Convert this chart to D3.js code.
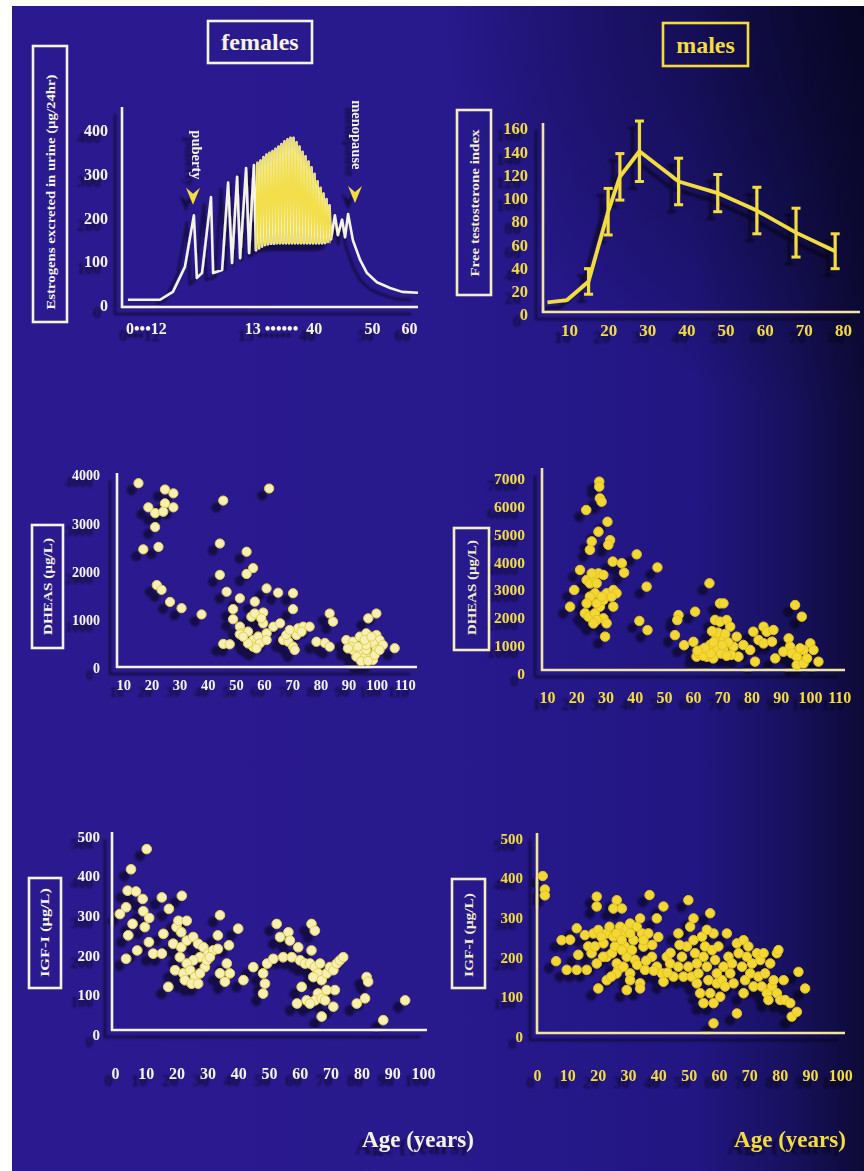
<!DOCTYPE html>
<html><head><meta charset="utf-8">
<script src="https://cdn.jsdelivr.net/npm/d3@7"></script>
<style>html,body{margin:0;padding:0;background:#fff}svg{display:block}</style>
</head><body>
<svg id="c" width="864" height="1171"></svg>
<script>
// ---------------- DATA ----------------
// Female estrogen schematic curve: [position along schematic lifespan axis (0-100), estrogen ug/24hr]
const estrogenPre = [[3.3,12],[14,12],[18.3,30],[22.3,87],[25.3,205],[26.3,62],[28,73],[31,247],[31.7,73],[34.7,80],[36.7,280],[38,96],[39.7,293],[40.7,107],[42.7,313],[43.7,119],[45.3,320],[46,125]];
const cyclePeakPos = [46.5,47.5,48.5,49.5,50.5,51.5,52.5,53.5,54.5,55.5,56.5,57.5,58.5,59.5,60.5,61.5,62.5,63.5,64.5,65.5,66.5,67.5,68.5,69.5,70.5];
const cyclePeakVal = [325,330,338,344,348,352,357,362,368,374,379,382,382,372,362,350,340,328,315,300,283,268,255,242,228];
const cycleTroughPos = [47,48,49,50,51,52,53,54,55,56,57,58,59,60,61,62,63,64,65,66,67,68,69,70,71];
const cycleTroughVal = [130,134,137,139,140,140,141,141,141,141,141,141,141,141,141,141,141,141,141,141,141,141,142,145,150];
const estrogenPost = [[72.3,205],[73.3,160],[74.7,195],[75.7,155],[76.7,208],[78.3,148],[80.7,103],[83,73],[86.3,52],[90.7,39],[94.7,30],[100,28]];
const estrogenYTicks = [0,100,200,300,400];
const estrogenXTickPos = [9.3,55,84.7,97];
const estrogenXTickLabels = ["0\u2022\u2022\u202212","13 \u2022\u2022\u2022\u2022\u2022\u2022  40","50","60"];
const estrogenNotes = [{text:"puberty", arrow:[25,229], label:[26.3,343]},{text:"menopause", arrow:[79,233], label:[79.7,389]}];

// Male free testosterone index
const testoAge = [4.5,9.5,15,20,23,28,38,48,58,68,78];
const testoVal = [10,12,28,88,118,140,114,104,89,70,54];
const testoErr = [0,0,11,20,20,26,20,16,20,21,15];
const testoXTicks = [10,20,30,40,50,60,70,80];
const testoYTicks = [0,20,40,60,80,100,120,140,160];

// Female DHEAS [age, ug/L]
const femaleDheas = [[15.4,3830],[24.8,3700],[27.8,3620],[18.9,3330],[21.3,3210],[24.8,3410],[24.2,3240],[27.8,3330],[21.3,2920],[17.1,2460],[22.5,2510],[45.5,3470],[61.8,3720],
[21.9,1720],[23.6,1620],[26.6,1370],[30.7,1240],[37.8,1110],
[44.3,2580],[44.3,1930],[46.7,1580],[53.8,2410],[56.1,2070],[53.8,1950],[51.4,1445],[60.9,1650],[65,1560],[70.3,1550],[70.3,1220],[56.7,1375],[49,1220],[49,1010],[59.7,1150],
[51.4,857],[52,719],[54.3,753],[56.1,580],[57.9,650],[59.7,926],[60.9,719],[63.3,857],[65.7,926],[56.1,442],[58.5,511],[60.9,580],[54.3,511],[57.3,408],[51.4,700],[52.6,650],[55.5,1064],[56.7,1130],[59,1030],[45.5,500],[47.8,490],
[66.8,580],[68.6,546],[70.3,442],[71.5,684],[72.1,823],[73.9,857],[76.2,857],[67.9,684],[70.9,373],[69.1,788],[73.3,753],
[78.6,545],[81.6,520],[83.3,442],[83.3,1130],[84.5,960],
[89.2,580],[91.6,546],[94,650],[96.3,719],[99.9,684],[101,580],[102.2,477],[91.6,373],[94,304],[96.3,373],[98.7,511],[97.5,200],[95.1,200],[99.9,373],[92.8,235],[98.7,166],[96.3,477],[91,442],[93.3,442],[95.7,580],[98.1,650],[94.5,140],[96.9,150],[89.8,408],[99.3,270],[101,373],[97,1030],[99.9,1130],[106.4,410]];
const femaleDheasXTicks = [10,20,30,40,50,60,70,80,90,100,110];
const femaleDheasYTicks = [0,1000,2000,3000,4000];

// Male DHEAS [age, ug/L]
const maleDheas = [[27.9,6870],[27.9,6690],[28.1,6270],[28.7,6150],[23.4,5850],[30.7,5430],[27.6,5070],[25.3,4720],[24.7,4420],[31.6,4770],[31,4600],[21.3,3700],[32.5,4000],[35.6,3940],[36.4,3600],[40.7,4260],[47.8,3790],[44.1,3100],[19.3,2980],[17.9,2380],
[23.6,3339],[24.7,3219],[25.9,3459],[27,3219],[26.4,2861],[24.7,2740],[23.6,2501],[23,2142],[24.2,2022],[26.4,2142],[28.1,2381],[29.3,2621],[30.4,2861],[32.7,2980],[33.8,2861],[32.1,2740],[29.3,1962],[27,1903],[25.9,1783],[30.4,1783],[29.9,1304],[32.7,2381],[27.6,3578],[29.3,3518],[25.3,3578],[27,2501],[28.7,2740],
[41.6,1870],[44.4,1540],[53.8,1360],[55,2080],[54.6,1900],[56.9,1000],[60.7,2200],[60.1,1120],[61.2,590],[63,830],[65.6,3220],[69.2,2500],[70.4,2500],[67.5,1903],[69.2,1843],[71.5,1903],[72.7,1663],[68.1,1304],[70.4,1185],[65.8,1005],[68.1,826],[64.7,586],[66.9,526],[70.4,826],[73.8,945],[74.9,1304],[75.5,586],[77.2,1005],[79.5,826],[80.6,1484],[84.1,1663],[85.2,1484],[87.5,1544],[82.4,1185],[84.1,1065],[87,1125],[81.2,407],[88.1,526],[92.7,1244],[93.2,945],[94.9,2441],[97.2,2022],[90.9,766],[93.8,706],[95.5,586],[97.8,826],[100.1,1065],[101.2,826],[95.5,287],[97.8,347],[102.9,407],[99,526],[96.6,886],
[62,700],[63.5,620],[66,700],[67,1100],[68.5,1450],[71,1400],[72,1100],[69.5,700],[73,650],[66.5,1500],[64,900],[70,1000],[71.5,620],[61.5,800]];
const maleDheasXTicks = [10,20,30,40,50,60,70,80,90,100,110];
const maleDheasYTicks = [0,1000,2000,3000,4000,5000,6000,7000];

// Female IGF-I [age, ug/L]
const femaleIgf = [[10.3,467],[5.2,416],[4.1,362],[6.8,360],[9,341],[3.6,320],[1.6,303],[9.2,310],[11.1,293],[5.7,278],[9.7,270],[4.3,249],[11,232],[7.2,211],[3.6,190],[12.4,203],[15.2,345],[17.5,316],[21.7,349],[15.7,253],[15.2,203],[17.3,119],
[20,270],[20.6,286],[23.3,286],[18.9,228],[21.5,219],[23.3,236],[25.4,245],[27,228],[28.7,219],[30.3,203],[31.9,211],[27.6,194],[25.4,186],[23.3,178],[21.1,194],[19.5,161],[22.2,153],[24.4,161],[26,144],[22.7,136],[24.9,127],[27,127],[29.2,169],[27.6,153],[29.8,186],[30.8,194],[21.5,257],
[34.1,300],[33.4,249],[33.4,215],[37,224],[34.1,153],[37.3,153],[36.3,178],[35.7,132],[40,266],[41.7,136],[44.9,169],[49.4,178],[48.1,153],[48.7,127],[48.1,102],
[52.5,278],[53.6,245],[56.3,257],[56.8,236],[59.5,219],[51.4,190],[54.6,194],[57.4,194],[60.1,186],[61.7,178],[63.8,278],[64.9,261],[63.8,211],[63.3,178],[64.9,169],[66.6,178],[65.9,153],[64.4,144],[67.1,136],[68.7,153],[69.8,169],[70.9,161],[72,178],[73,186],[74.1,194],[71.4,111],[70.9,69],[67.1,44],[65.9,102],[64.9,85],[62.2,85],[60.6,119],[59.1,77],[63.3,77],[67.1,90],[68.2,85],[68.7,111],[78.5,77],[81.2,90],[81.7,144],[82.2,132],[87.1,35],[94.2,85]];
const femaleIgfXTicks = [0,10,20,30,40,50,60,70,80,90,100];
const femaleIgfYTicks = [0,100,200,300,400,500];

// Male IGF-I [age, ug/L]
const maleIgf = [[1.9,404],[2.6,370],[2.6,355],[6.3,189],[8.1,242],[9.8,167],[10.9,243],[13.1,272],[13.1,167],[13.6,205],[15.8,255],[16.4,167],[16.9,226],[18,209],[18.6,259],[19.7,352],[19.7,327],[20.2,268],[19.1,226],[19.7,183],[20.2,120],[21.9,234],[23,259],[23,200],[23,141],[24.7,209],[25.2,251],[26.3,343],[25.2,322],[28,322],[25.7,226],[26.3,183],[26.8,167],[27.4,276],[28.5,259],[29.6,272],[30.7,284],[29,226],[29.6,200],[28.5,175],[29.6,116],[30.7,158],[31.3,217],[31.8,242],[32.3,192],[34,133],[34,120],[34,297],[34.6,259],[35.1,226],[35.6,167],[36.7,259],[37.1,356],[37.9,200],[39.5,297],[39.5,175],[41.2,158],[41.7,327],[41.7,137],[42.8,200],[43.9,183],[45,150],[46.6,259],[46.6,175],[47.8,200],[48.3,150],[49.4,226],[49.9,175],[50.5,276],[51,150],[51.6,242],[51.6,297],[52.1,209],[52.7,183],[52.7,133],[53.2,158],[53.8,108],[54.4,251],[54.9,200],[54.9,83],[55.4,226],[56,175],[56.5,141],[57.1,310],[57.1,108],[57.7,217],[58.2,259],[58.2,83],[58.2,32],[58.7,192],[59.3,133],[59.3,158],[59.8,226],[60.4,99],[61,141],[61.5,175],[62,125],[62.6,259],[63.1,200],[63.7,158],[64.3,183],[64.8,133],[65.9,234],[65.9,57],[66.5,209],[67.6,175],[68.1,242],[68.1,108],[68.6,141],[69.2,200],[69.7,226],[70.3,158],[70.9,183],[71.4,125],[72.5,209],[73,150],[73.6,192],[74.1,125],[74.7,209],[75.2,158],[75.8,108],[76.3,91],[76.9,183],[77.5,125],[78,141],[79.1,209],[79.1,108],[79.6,217],[80.2,91],[81.3,141],[81.8,91],[83.5,83],[84,49],[85.7,61],[86.2,162],[88.4,120],[49.9,343],[56,268],
[21.2,251],[23.9,276],[26.2,259],[27.9,242],[30.7,259],[32.9,276],[35.1,242],[30.7,141],[28,217],[26.2,158],[21.8,200],[24.5,150],[38,230],[40,250],[44,210],[47,230],[33,180],[36,190],[38.5,165],[43,160]];
const maleIgfXTicks = [0,10,20,30,40,50,60,70,80,90,100];
const maleIgfYTicks = [0,100,200,300,400,500];

// ---------------- DRAWING ----------------
const FONT = '"Liberation Serif","DejaVu Serif",serif';
const WHITE = '#f5f3e3', CREAM = '#f3eec4', YEL = '#f3dc3e', YAXIS = '#f1e6a0';
const svg = d3.select('#c');
const defs = svg.append('defs');
const lg = defs.append('linearGradient').attr('id','bg').attr('x1',0).attr('x2',1).attr('y1',0).attr('y2',0);
[[0,'#2b1a8f'],[0.5,'#28198d'],[0.8,'#221682'],[0.91,'#18115f'],[1,'#0d0a36']].forEach(([o,c])=>lg.append('stop').attr('offset',o).attr('stop-color',c));
const rg = defs.append('radialGradient').attr('id','tr').attr('gradientUnits','userSpaceOnUse').attr('cx',864).attr('cy',0).attr('r',420);
rg.append('stop').attr('offset',0).attr('stop-color','#05051e').attr('stop-opacity',0.75);
rg.append('stop').attr('offset',1).attr('stop-color','#05051e').attr('stop-opacity',0);
const f = defs.append('filter').attr('id','shd').attr('x','-10%').attr('y','-10%').attr('width','125%').attr('height','125%');
f.append('feGaussianBlur').attr('in','SourceAlpha').attr('stdDeviation',1.1);
f.append('feOffset').attr('dx',-7).attr('dy',7);
f.append('feComponentTransfer').append('feFuncA').attr('type','linear').attr('slope',0.5);
const fm = f.append('feMerge'); fm.append('feMergeNode'); fm.append('feMergeNode').attr('in','SourceGraphic');

svg.append('rect').attr('x',12).attr('y',6).attr('width',852).attr('height',1165).attr('fill','url(#bg)');
svg.append('rect').attr('x',12).attr('y',6).attr('width',852).attr('height',1165).attr('fill','url(#tr)');

function box(x,y,w,h,stroke){
  svg.append('rect').attr('x',x).attr('y',y).attr('width',w).attr('height',h).attr('fill','none').attr('stroke',stroke).attr('stroke-width',2.6);
}
function vlabel(cx,cy,len,text,fill,fs){
  svg.append('text').attr('transform',`translate(${cx},${cy}) rotate(-90)`).attr('text-anchor','middle').attr('dy','0.35em')
    .attr('font-family',FONT).attr('font-weight','bold').attr('font-size',fs).attr('fill',fill)
    .attr('textLength',len).attr('lengthAdjust','spacingAndGlyphs').text(text);
}
function styleAxis(g,color,fs,dy){
  g.attr('font-family',FONT).attr('font-size',fs);
  g.select('.domain').remove();
  g.selectAll('text').attr('fill',color).attr('font-weight','bold').attr('dy',dy);
}
function axesLines(g,c,color){
  g.append('line').attr('x1',c.ax).attr('x2',c.ax).attr('y1',c.at).attr('y2',c.ay+1).attr('stroke',color).attr('stroke-width',2.6);
  g.append('line').attr('x1',c.ax-1).attr('x2',c.ar).attr('y1',c.ay).attr('y2',c.ay).attr('stroke',color).attr('stroke-width',2.6);
}
function axisLabels(g,x,y,c,xt,yt,color,fs,xfs){
  const ya = g.append('g').attr('transform',`translate(${c.ylx},0)`)
    .call(d3.axisLeft(y).tickValues(yt).tickSize(0).tickPadding(0).tickFormat(d3.format('d')));
  styleAxis(ya,color,fs,'0.35em');
  const xa = g.append('g').attr('transform',`translate(0,${c.xly})`)
    .call(d3.axisBottom(x).tickValues(xt).tickSize(0).tickPadding(0).tickFormat(c.xfmt || d3.format('d')));
  styleAxis(xa,color,xfs||fs,'0.35em');
}

// ---- Panel 1: female estrogens ----
(function(){
  const c = {ax:122, at:107, ay:307, ar:418, ylx:108, xly:328};
  const x = d3.scaleLinear().domain([0,100]).range([118,418]);
  const y = d3.scaleLinear().domain([0,400]).range([305,130]);
  const cycles = [];
  cyclePeakPos.forEach((p,i)=>{ cycles.push([p,cyclePeakVal[i]]); cycles.push([cycleTroughPos[i],cycleTroughVal[i]]); });
  const curve = estrogenPre.concat(cycles, estrogenPost);
  const g = svg.append('g').attr('filter','url(#shd)');
  axesLines(g,c,WHITE);
  const dense = [estrogenPre[estrogenPre.length-1]].concat(cycles);
  g.append('path').datum(dense).attr('fill','#e8cf2e').attr('fill-opacity',0.6)
    .attr('d',d3.area().x(d=>x(d[0])).y0(y(141)).y1(d=>y(d[1])));
  g.append('path').datum(curve).attr('fill','none').attr('stroke',WHITE).attr('stroke-width',2.6).attr('stroke-linejoin','round')
    .attr('d',d3.line().x(d=>x(d[0])).y(d=>y(d[1])));
  g.append('path').datum(dense).attr('fill','none').attr('stroke','#f2df4c').attr('stroke-width',1.7).attr('stroke-linejoin','round')
    .attr('d',d3.line().x(d=>x(d[0])).y(d=>y(d[1])));
  estrogenNotes.forEach(n=>{
    const ax = x(n.arrow[0]), ay = y(n.arrow[1]);
    g.append('path').attr('d',`M${ax},${ay} L${ax-7},${ay-17} L${ax},${ay-11} L${ax+7},${ay-17} Z`).attr('fill',YEL);
    g.append('text').attr('transform',`translate(${x(n.label[0])},${y(n.label[1])}) rotate(90)`).attr('text-anchor','middle').attr('dy','0.35em')
      .attr('font-family',FONT).attr('font-weight','bold').attr('font-size',14.5).attr('fill',WHITE).text(n.text);
  });
  const ya = g.append('g').attr('transform',`translate(${c.ylx},0)`)
    .call(d3.axisLeft(y).tickValues(estrogenYTicks).tickSize(0).tickPadding(0).tickFormat(d3.format('d')));
  styleAxis(ya,WHITE,16,'0.35em');
  const xa = g.append('g').attr('transform',`translate(0,${c.xly})`)
    .call(d3.axisBottom(x).tickValues(estrogenXTickPos).tickSize(0).tickPadding(0).tickFormat((d,i)=>estrogenXTickLabels[i]));
  styleAxis(xa,WHITE,16,'0.35em');
  xa.selectAll('text').style('white-space','pre');
})();
box(208,21,104,42,WHITE);
svg.append('text').attr('x',260).attr('y',42).attr('dy','0.35em').attr('text-anchor','middle').attr('font-family',FONT).attr('font-weight','bold').attr('font-size',24).attr('fill',WHITE).text('females');
box(33,46,34,276,WHITE);
vlabel(50.5,192,235,'Estrogens excreted in urine (\u00b5g/24hr)',WHITE,12.5);

// ---- Panel 2: male testosterone ----
(function(){
  const c = {ax:543, at:123, ay:312, ar:860, ylx:528, xly:330};
  const x = d3.scaleLinear().domain([10,80]).range([569,843]);
  const y = d3.scaleLinear().domain([0,160]).range([314,128]);
  const pts = testoAge.map((a,i)=>({a, v:testoVal[i], e:testoErr[i]}));
  const g = svg.append('g').attr('filter','url(#shd)');
  axesLines(g,c,YAXIS);
  g.append('path').datum(pts).attr('fill','none').attr('stroke',YEL).attr('stroke-width',3.8).attr('stroke-linejoin','round')
    .attr('d',d3.line().x(d=>x(d.a)).y(d=>y(d.v)));
  const eb = g.selectAll('g.eb').data(pts.filter(d=>d.e>0)).join('g');
  eb.append('line').attr('x1',d=>x(d.a)).attr('x2',d=>x(d.a)).attr('y1',d=>y(d.v-d.e)).attr('y2',d=>y(d.v+d.e)).attr('stroke',YEL).attr('stroke-width',3.2);
  eb.append('line').attr('x1',d=>x(d.a)-4.5).attr('x2',d=>x(d.a)+4.5).attr('y1',d=>y(d.v+d.e)).attr('y2',d=>y(d.v+d.e)).attr('stroke',YEL).attr('stroke-width',3);
  eb.append('line').attr('x1',d=>x(d.a)-4.5).attr('x2',d=>x(d.a)+4.5).attr('y1',d=>y(d.v-d.e)).attr('y2',d=>y(d.v-d.e)).attr('stroke',YEL).attr('stroke-width',3);
  axisLabels(g,x,y,c,testoXTicks,testoYTicks,YEL,16.5,17);
})();
box(663,23,85,43,YEL);
svg.append('text').attr('x',705.5).attr('y',44.5).attr('dy','0.35em').attr('text-anchor','middle').attr('font-family',FONT).attr('font-weight','bold').attr('font-size',24).attr('fill',YEL).text('males');
box(457,110,34,185,CREAM);
vlabel(474,203,147,'Free testosterone index',CREAM,13);

// ---- scatter panels ----
function scatter(c){
  const x = d3.scaleLinear().domain(c.xd).range(c.xr);
  const y = d3.scaleLinear().domain(c.yd).range(c.yr);
  const g = svg.append('g').attr('filter','url(#shd)');
  axesLines(g,c,c.axisColor);
  g.append('g').selectAll('circle').data(c.data).join('circle')
    .attr('cx',d=>x(d[0])).attr('cy',d=>y(d[1])).attr('r',c.r)
    .attr('fill',c.fill).attr('stroke',c.stroke).attr('stroke-width',1);
  axisLabels(g,x,y,c,c.xt,c.yt,c.labelColor,c.fs,c.xfs);
}
scatter({data:femaleDheas, xd:[10,100], xr:[123.3,376.7], yd:[0,4000], yr:[668,475], ax:117, at:473, ay:667, ar:417, ylx:100, xly:685,
  xt:femaleDheasXTicks, yt:femaleDheasYTicks, axisColor:WHITE, labelColor:WHITE, fs:14, xfs:14.5, r:4.6, fill:'#f7f0b4', stroke:'#e6d04a'});
box(32,525,31,123,WHITE); vlabel(48,586.5,97,'DHEAS (\u00b5g/L)',WHITE,12.5);

scatter({data:maleDheas, xd:[10,100], xr:[547,810], yd:[0,7000], yr:[673,478], ax:542, at:468, ay:670, ar:845, ylx:525, xly:697,
  xt:maleDheasXTicks, yt:maleDheasYTicks, axisColor:YAXIS, labelColor:YEL, fs:15.5, xfs:16, r:4.7, fill:'#f3d836', stroke:'#e2c21e'});
box(454,528,35,122,CREAM); vlabel(471.5,587.5,95,'DHEAS (\u00b5g/L)',CREAM,12.5);

scatter({data:femaleIgf, xd:[0,100], xr:[115,423], yd:[0,500], yr:[1034,836], ax:112, at:832, ay:1030, ar:427, ylx:100, xly:1073,
  xt:femaleIgfXTicks, yt:femaleIgfYTicks, axisColor:WHITE, labelColor:WHITE, fs:15, xfs:16, r:4.8, fill:'#f7f0b4', stroke:'#e6d04a'});
box(29,878,32,110,WHITE); vlabel(45,932.5,89,'IGF-I (\u00b5g/L)',WHITE,12.5);

scatter({data:maleIgf, xd:[0,90], xr:[537,810], yd:[0,500], yr:[1036,838], ax:537, at:833, ay:1033, ar:845, ylx:523, xly:1075,
  xt:maleIgfXTicks, yt:maleIgfYTicks, axisColor:YAXIS, labelColor:YEL, fs:15, xfs:16, r:4.7, fill:'#f3d836', stroke:'#e2c21e'});
box(452,879,33,109,CREAM); vlabel(468.5,935,84,'IGF-I (\u00b5g/L)',CREAM,12.5);

// Bottom titles
svg.append('text').attr('x',418).attr('y',1147).attr('text-anchor','middle').attr('font-family',FONT).attr('font-weight','bold').attr('font-size',23).attr('fill',WHITE).attr('filter','url(#shd)').text('Age (years)');
svg.append('text').attr('x',790).attr('y',1147).attr('text-anchor','middle').attr('font-family',FONT).attr('font-weight','bold').attr('font-size',23).attr('fill',YEL).attr('filter','url(#shd)').text('Age (years)');
</script>
</body></html>
